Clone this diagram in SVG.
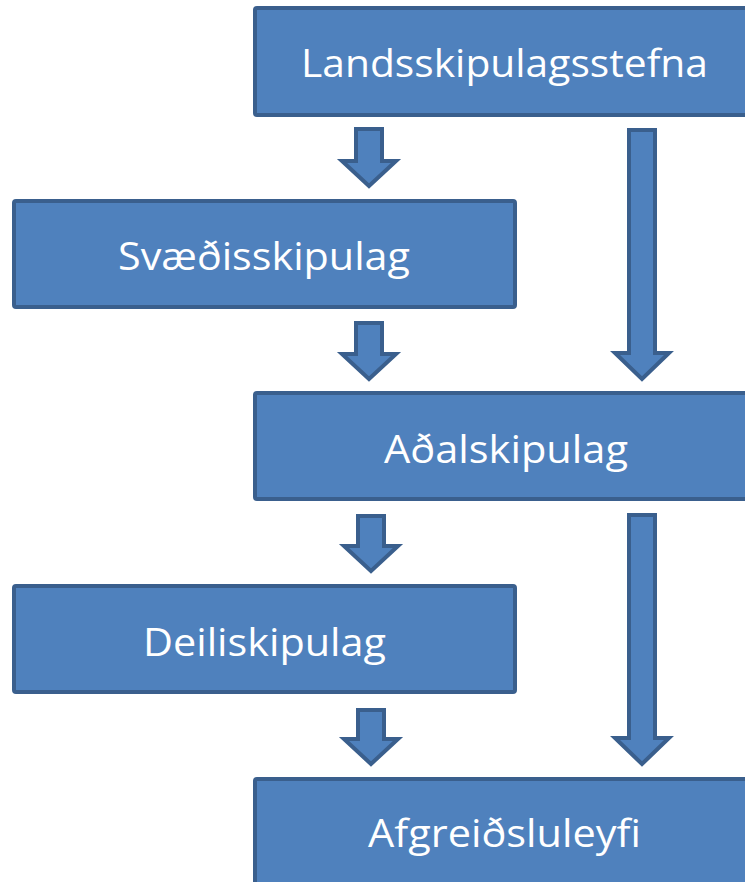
<svg xmlns="http://www.w3.org/2000/svg" width="745" height="882" viewBox="0 0 745 882">
<style>
.box{fill:#4f81bd;stroke:#3a5f8d;stroke-width:4}
.arr{fill:#4f81bd;stroke:#3a5f8d;stroke-width:4;stroke-linejoin:miter}
.lbl{font-family:"Open Sans","Noto Sans","Liberation Sans",sans-serif;font-size:39px;fill:#ffffff;text-anchor:middle}
</style>
<rect width="745" height="882" fill="#ffffff"/>
<g id="connectors">
<path class="arr" d="M356,129 H382 V161 H396 L369,186 L342,161 H356 Z"/>
<path class="arr" d="M356,323 H382 V354 H396 L369,379 L342,354 H356 Z"/>
<path class="arr" d="M358,516 H384 V546 H398 L371,571 L344,546 H358 Z"/>
<path class="arr" d="M358,710 H384 V739 H398 L371,764 L344,739 H358 Z"/>
<path class="arr" d="M629,130 H655 V353 H669 L642,379 L615,353 H629 Z"/>
<path class="arr" d="M629,515 H655 V738 H669 L642,764 L615,738 H629 Z"/>
</g>
<g id="n1"><rect class="box" x="255" y="8" width="520" height="107" rx="2"/><text class="lbl" x="504.5" y="77" textLength="407" lengthAdjust="spacingAndGlyphs">Landsskipulagsstefna</text></g>
<g id="n2"><rect class="box" x="14" y="201" width="501" height="106" rx="2"/><text class="lbl" x="264" y="270" textLength="292" lengthAdjust="spacingAndGlyphs">Svæðisskipulag</text></g>
<g id="n3"><rect class="box" x="255" y="393" width="520" height="106" rx="2"/><text class="lbl" x="506" y="463" textLength="244" lengthAdjust="spacingAndGlyphs">Aðalskipulag</text></g>
<g id="n4"><rect class="box" x="14" y="586" width="501" height="106" rx="2"/><text class="lbl" x="264.5" y="656" textLength="243" lengthAdjust="spacingAndGlyphs">Deiliskipulag</text></g>
<g id="n5"><rect class="box" x="255" y="779" width="520" height="120" rx="2"/><text class="lbl" x="504.5" y="847" textLength="273" lengthAdjust="spacingAndGlyphs">Afgreiðsluleyfi</text></g>
</svg>
